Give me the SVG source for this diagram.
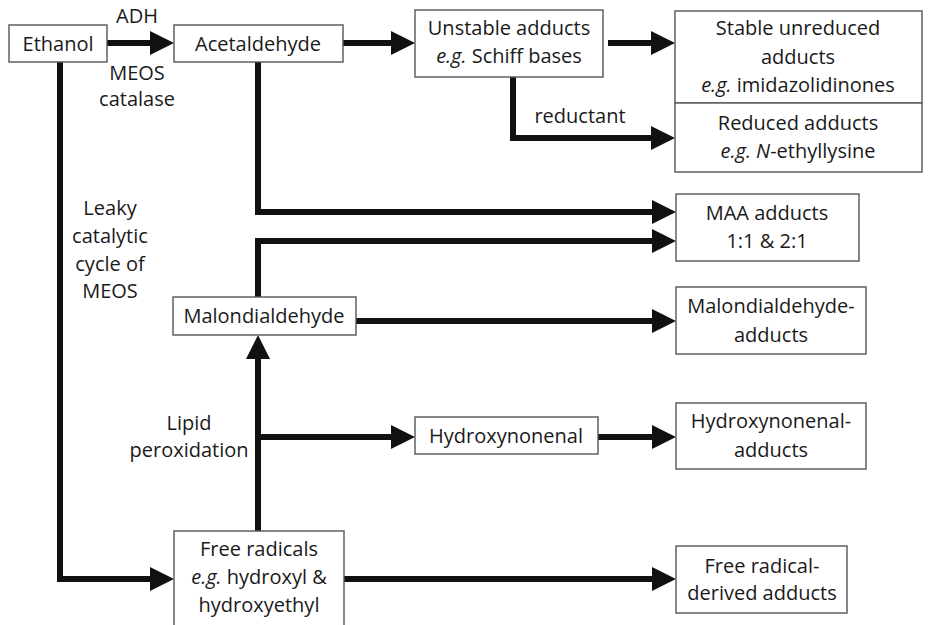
<svg xmlns="http://www.w3.org/2000/svg" width="928" height="625" viewBox="0 0 928 625">
<defs>
<style>
.box{fill:#fff;stroke:#555;stroke-width:1.4}
.t{font-family:"Open Sans","Liberation Sans",sans-serif;font-size:20px;fill:#1a1a1a;text-anchor:middle}
.i{font-style:italic}
.c{fill:none;stroke:#111;stroke-width:6;stroke-linejoin:miter;stroke-linecap:butt}
</style>
<marker id="ah" markerUnits="userSpaceOnUse" markerWidth="24" markerHeight="24" viewBox="0 0 24 24" refX="1" refY="12" orient="auto">
<path d="M0,0 L24,12 L0,24 z" fill="#111"/>
</marker>
</defs>
<rect width="928" height="625" fill="#fff"/>
<g id="connectors">
<path class="c" d="M107,43 H151" marker-end="url(#ah)"/>
<path class="c" d="M343,43 H392" marker-end="url(#ah)"/>
<path class="c" d="M608,43 H652" marker-end="url(#ah)"/>
<path class="c" d="M513,77 V138 H652" marker-end="url(#ah)"/>
<path class="c" d="M258,62 V212 H653" marker-end="url(#ah)"/>
<path class="c" d="M258,298 V241 H653" marker-end="url(#ah)"/>
<path class="c" d="M356,321 H653" marker-end="url(#ah)"/>
<path class="c" d="M258,531 V358" marker-end="url(#ah)"/>
<path class="c" d="M258,437 H392" marker-end="url(#ah)"/>
<path class="c" d="M598,437 H653" marker-end="url(#ah)"/>
<path class="c" d="M60,62 V579 H151" marker-end="url(#ah)"/>
<path class="c" d="M344,579 H653" marker-end="url(#ah)"/>
<text class="t" x="137" y="23">ADH</text>
<text class="t" x="137" y="80">MEOS</text>
<text class="t" x="137" y="106">catalase</text>
<text class="t" x="580" y="123">reductant</text>
<text class="t" x="110" y="215">Leaky</text>
<text class="t" x="110" y="243">catalytic</text>
<text class="t" x="110" y="271">cycle of</text>
<text class="t" x="110" y="298">MEOS</text>
<text class="t" x="189" y="430">Lipid</text>
<text class="t" x="189" y="457">peroxidation</text>
</g>
<g id="ethanol"><rect class="box" x="9" y="25" width="98" height="37"/><text class="t" x="58" y="51">Ethanol</text></g>
<g id="acetaldehyde"><rect class="box" x="174" y="25" width="169" height="37"/><text class="t" x="258" y="51">Acetaldehyde</text></g>
<g id="unstable"><rect class="box" x="415" y="10" width="188" height="67"/><text class="t" x="509" y="35">Unstable adducts</text><text class="t" x="509" y="63"><tspan class="i">e.g.</tspan> Schiff bases</text></g>
<g id="stable"><rect class="box" x="675" y="11" width="247" height="92"/><text class="t" x="798" y="35">Stable unreduced</text><text class="t" x="798" y="64">adducts</text><text class="t" x="798" y="92"><tspan class="i">e.g.</tspan> imidazolidinones</text></g>
<g id="reduced"><rect class="box" x="675" y="103" width="247" height="69"/><text class="t" x="798" y="130">Reduced adducts</text><text class="t" x="798" y="158"><tspan class="i">e.g. N</tspan>-ethyllysine</text></g>
<g id="maa"><rect class="box" x="676" y="194" width="183" height="67"/><text class="t" x="767" y="220">MAA adducts</text><text class="t" x="767" y="248">1:1 &amp; 2:1</text></g>
<g id="malondialdehyde"><rect class="box" x="173" y="297" width="183" height="38"/><text class="t" x="264" y="323">Malondialdehyde</text></g>
<g id="mda-adducts"><rect class="box" x="676" y="287" width="190" height="67"/><text class="t" x="771" y="313">Malondialdehyde-</text><text class="t" x="771" y="342">adducts</text></g>
<g id="hydroxynonenal"><rect class="box" x="415" y="417" width="183" height="37"/><text class="t" x="506" y="443">Hydroxynonenal</text></g>
<g id="hne-adducts"><rect class="box" x="676" y="403" width="190" height="66"/><text class="t" x="771" y="428">Hydroxynonenal-</text><text class="t" x="771" y="457">adducts</text></g>
<g id="free-radicals"><rect class="box" x="174" y="531" width="170" height="100"/><text class="t" x="259" y="556">Free radicals</text><text class="t" x="259" y="584"><tspan class="i">e.g.</tspan> hydroxyl &amp;</text><text class="t" x="259" y="612">hydroxyethyl</text></g>
<g id="fr-adducts"><rect class="box" x="676" y="546" width="171" height="67"/><text class="t" x="762" y="573">Free radical-</text><text class="t" x="762" y="600">derived adducts</text></g>
</svg>
